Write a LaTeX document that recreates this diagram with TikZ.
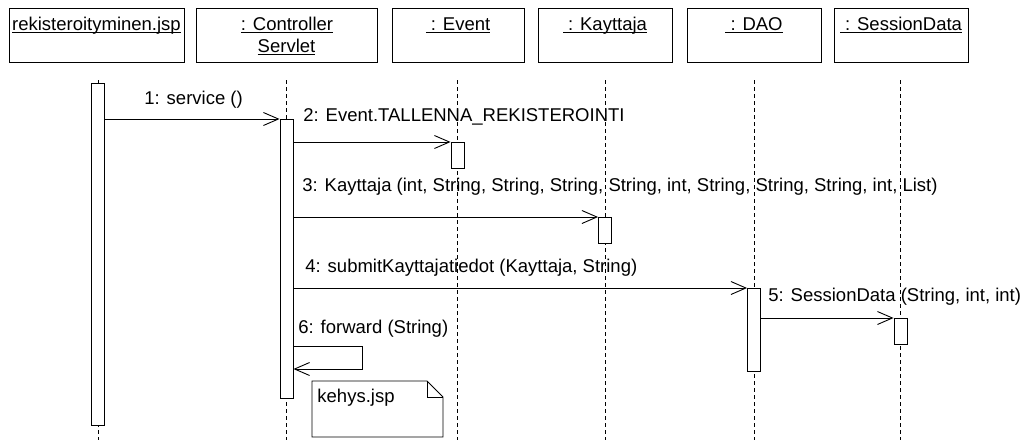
\documentclass[tikz,border=0pt]{standalone}
\usepackage{fontspec}
\setmainfont{Liberation Sans}
\usetikzlibrary{arrows.meta}
\newcommand\myul[1]{\leavevmode\setbox0\hbox{#1}\rlap{\rule[-3pt]{\wd0}{0.9pt}}\box0}
\begin{document}
\begin{tikzpicture}[x=1pt,y=-1pt,
  font=\fontsize{18.5}{22}\selectfont,
  line width=0.9pt,
  objbox/.style={draw, minimum height=54pt, inner sep=0},
  title/.style={inner sep=0, anchor=base},
  act/.style={draw, fill=white, minimum width=13pt, inner sep=0, anchor=north},
  life/.style={dash pattern=on 4pt off 3pt},
  msg/.style={-{Straight Barb[length=15pt,width=13pt]}},
  lab/.style={inner sep=0, anchor=base west}]
\fill[white] (0,0) rectangle (1024,440);
\useasboundingbox (0,0) rectangle (1024,440);

% object boxes
\node[objbox, minimum width=175pt] (rek) at (96.5,35) {};
\node[objbox, minimum width=181pt] (ctrl) at (286.5,35) {};
\node[objbox, minimum width=132pt] (ev) at (458,35) {};
\node[objbox, minimum width=134pt] (kay) at (605,35) {};
\node[objbox, minimum width=134pt] (dao) at (754,35) {};
\node[objbox, minimum width=134pt] (sd) at (901,35) {};

\node[title] (rekT) at (96.5,30) {\myul{rekisteroityminen.jsp}};
\node[title] (ctrlT) at (287,30) {\myul{: Controller}};
\node[title] (ctrlT2) at (286.5,52) {\myul{Servlet}};
\node[title] (evT) at (458,30) {\myul{\ : Event}};
\node[title] (kayT) at (605,30) {\myul{\ : Kayttaja}};
\node[title] (daoT) at (754,30) {\myul{\ : DAO}};
\node[title] (sdT) at (901,30) {\myul{\ : SessionData}};

% lifelines
\coordinate (rekL) at (98,80);   \coordinate (rekE) at (98,440);
\coordinate (ctrlL) at (286.5,80); \coordinate (ctrlE) at (286.5,440);
\coordinate (evL) at (457.5,80);  \coordinate (evE) at (457.5,440);
\coordinate (kayL) at (605,80);  \coordinate (kayE) at (605,440);
\coordinate (daoL) at (754,80);  \coordinate (daoE) at (754,440);
\coordinate (sdL) at (900.5,80); \coordinate (sdE) at (900.5,440);
\draw[life] (rekL) -- (rekE);
\draw[life] (ctrlL) -- (ctrlE);
\draw[life] (evL) -- (evE);
\draw[life] (kayL) -- (kayE);
\draw[life] (daoL) -- (daoE);
\draw[life] (sdL) -- (sdE);

% activations
\node[act, minimum height=342pt] (rekA) at (98,83) {};
\node[act, minimum height=279pt] (ctrlA) at (286.5,119) {};
\node[act, minimum height=26pt] (evA) at (457.5,142) {};
\node[act, minimum height=26pt] (kayA) at (605,217) {};
\node[act, minimum height=83pt] (daoA) at (754,288) {};
\node[act, minimum height=26pt] (sdA) at (900.5,318) {};

% messages
\draw[msg] (rekA.east |- ctrlA.north) -- (ctrlA.north west);
\draw[msg] (ctrlA.east |- evA.north) -- (evA.north west);
\draw[msg] (ctrlA.east |- kayA.north) -- (kayA.north west);
\draw[msg] (ctrlA.east |- daoA.north) -- (daoA.north west);
\draw[msg] (daoA.east |- sdA.north) -- (sdA.north west);
\draw[msg] (ctrlA.east |- 0,346) -- ++(69,0) -- ++(0,23) -- (ctrlA.east |- 0,369);

% labels
\node[lab] (l1) at (144,104) {1: service ()};
\node[lab] (l2) at (303,121) {2: Event.TALLENNA\_REKISTEROINTI};
\node[lab] (l3) at (302,191) {3: Kayttaja (int, String, String, String, String, int, String, String, String, int, List)};
\node[lab] (l4) at (305,272) {4: submitKayttajatiedot (Kayttaja, String)};
\node[lab] (l5) at (768,301) {5: SessionData (String, int, int)};
\node[lab] (l6) at (298,333) {6: forward (String)};

% note
\draw[fill=white] (312,381) -- (427,381) -- (443,397) -- (443,437) -- (312,437) -- cycle;
\draw (427,381) -- (427,397) -- (443,397);
\node[lab] (note) at (317,402) {kehys.jsp};
\end{tikzpicture}
\end{document}
